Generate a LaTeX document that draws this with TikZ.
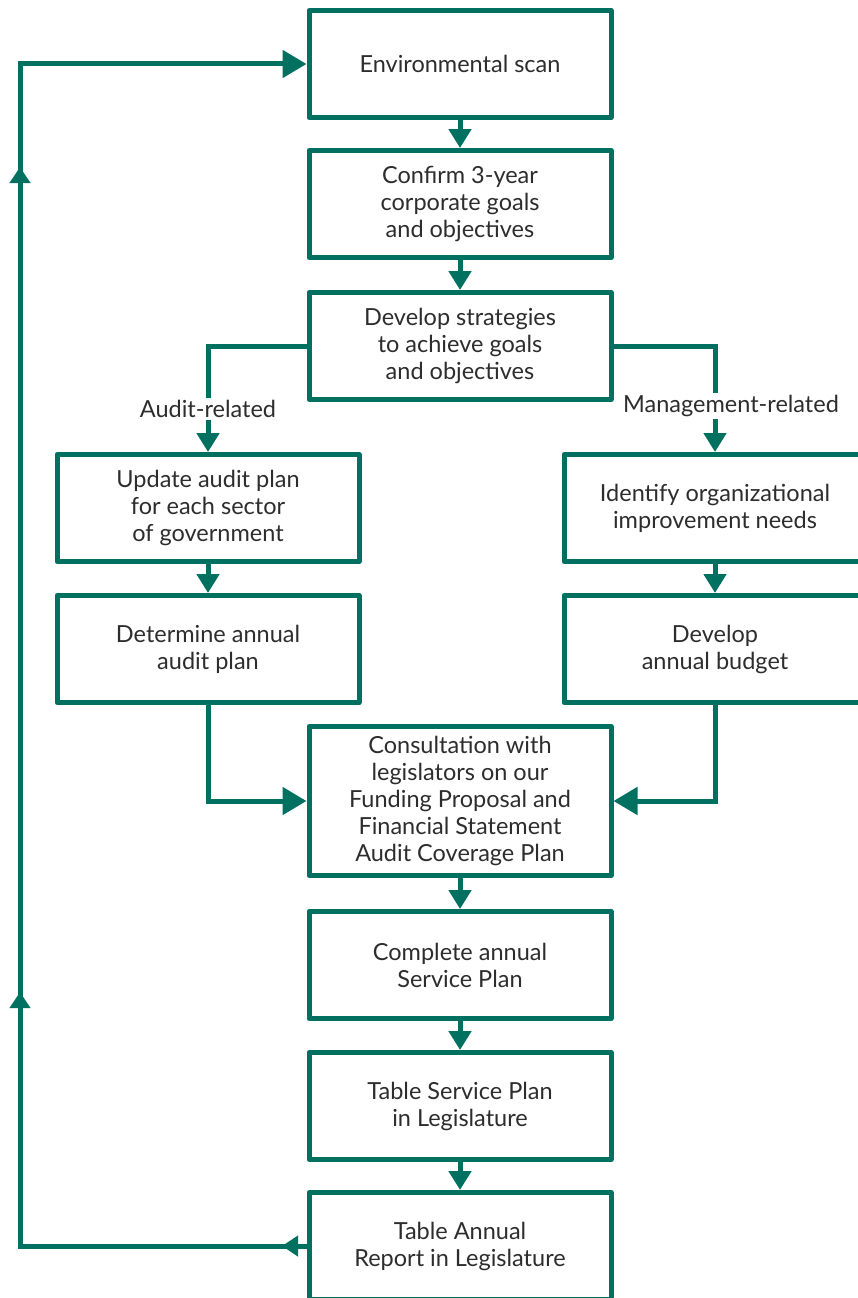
\documentclass[tikz,border=0pt]{standalone}
\usepackage{fontspec}
\setmainfont{Lato}
\usetikzlibrary{arrows.meta}
\definecolor{flowgreen}{RGB}{0,112,96}
\definecolor{inkgray}{RGB}{45,45,45}

\tikzset{
  stepbox/.style={draw=flowgreen, line width=5pt, fill=white, line join=round,
    minimum width=302pt, minimum height=107pt, inner sep=0pt, align=center,
    text=inkgray, font=\fontsize{23.5}{27}\selectfont},
  link/.style={draw=flowgreen, line width=5pt, -{Triangle[width=22pt,length=19pt]}},
  biglink/.style={draw=flowgreen, line width=5pt, -{Triangle[width=27pt,length=24pt]}},
  uplink/.style={draw=flowgreen, line width=5pt, -{Triangle[width=20pt,length=16pt]}},
  branchlabel/.style={fill=white, inner sep=2pt, text=inkgray, font=\fontsize{23.5}{27}\selectfont}
}

\begin{document}
\begin{tikzpicture}[x=1pt, y=-1pt]
\useasboundingbox (0,0) rectangle (857,1298);

% main column
\node[stepbox] (env) at (460,64) {Environmental scan};
\node[stepbox] (goals) at (460,204) {Confirm 3-year\\corporate goals\\and objectives};
\node[stepbox] (strat) at (460,346) {Develop strategies\\to achieve goals\\and objectives};

% audit side
\node[stepbox] (upd) at (208,508) {Update audit plan\\for each sector\\of government};
\node[stepbox] (annual) at (208,649) {Determine annual\\audit plan};

% management side
\node[stepbox] (ident) at (715,508) {Identify organizational\\improvement needs};
\node[stepbox] (budget) at (715,649) {Develop\\annual budget};

% lower column
\node[stepbox, minimum height=149pt] (consult) at (460,801) {Consultation with\\legislators on our\\Funding Proposal and\\Financial Statement\\Audit Coverage Plan};
\node[stepbox] (service) at (460,965) {Complete annual\\Service Plan};
\node[stepbox] (table) at (460,1106) {Table Service Plan\\in Legislature};
\node[stepbox] (report) at (460,1246) {Table Annual\\Report in Legislature};

% loop back
\coordinate (lb) at (20,1246);
\coordinate (lt) at (20,64);
\coordinate (up1) at (20,992);
\coordinate (up2) at (20,167);
\coordinate (backtip) at (282,1246);

% connectors
\draw[link] (env) -- (goals);
\draw[link] (goals) -- (strat);
\draw[link] (strat.west) -| (upd.north);
\draw[link] (strat.east) -| (ident.north);
\draw[link] (upd) -- (annual);
\draw[link] (ident) -- (budget);
\draw[biglink] (annual.south) |- (consult.west);
\draw[biglink] (budget.south) |- (consult.east);
\draw[link] (consult) -- (service);
\draw[link] (service) -- (table);
\draw[link] (table) -- (report);

\draw[biglink] (report.west) -- (lb) -- (lt) -- (env.west);
\draw[uplink] (lb) -- (up1);
\draw[uplink] (up1) -- (up2);
\draw[uplink] (report.west) -- (backtip);

% branch labels
\node[branchlabel] (audlab) at (208,409) {Audit-related};
\node[branchlabel] (mgtlab) at (731,406) {Management-related};
\end{tikzpicture}
\end{document}
